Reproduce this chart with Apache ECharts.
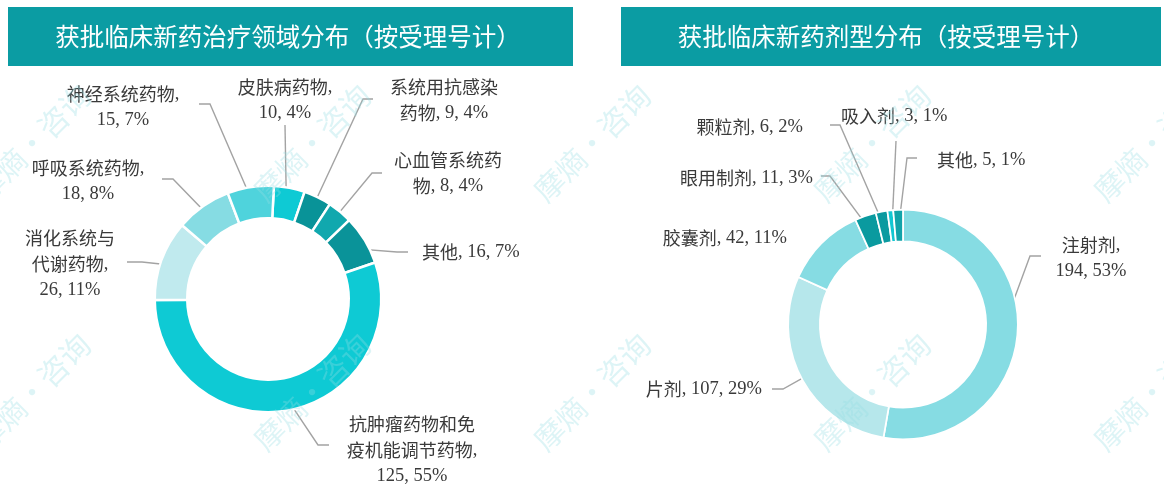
<!DOCTYPE html>
<html>
<head>
<meta charset="utf-8">
<script src="https://cdn.jsdelivr.net/npm/echarts@6/dist/echarts.min.js"></script>
<style>
html,body{margin:0;padding:0;background:#ffffff;}
#chart{width:1164px;height:496px;}
</style>
</head>
<body>
<div id="chart"></div>
<script>
// ---------------- data ----------------
const leftTitle = '获批临床新药治疗领域分布（按受理号计）';
const leftNames = ['皮肤病药物', '系统用抗感染药物', '心血管系统药物', '其他', '抗肿瘤药物和免疫机能调节药物', '消化系统与代谢药物', '呼吸系统药物', '神经系统药物'];
const leftValues = [10, 9, 8, 16, 125, 26, 18, 15];

const rightTitle = '获批临床新药剂型分布（按受理号计）';
const rightNames = ['注射剂', '片剂', '胶囊剂', '眼用制剂', '颗粒剂', '吸入剂', '其他'];
const rightValues = [194, 107, 42, 11, 6, 3, 5];

const watermarkText = '摩熵·咨询';

// ---------------- styles / layout ----------------
const leftColors = ['#0ecad4', '#099398', '#11a8ae', '#0a9399', '#0ecad4', '#c0eaee', '#86dce3', '#4fd3dc'];
const rightColors = ['#86dce3', '#b6e7eb', '#86dce3', '#0a9a9f', '#0b9aa0', '#12c7d2', '#12a3a9'];

// label line breaks: index in name where to break (0 = none), newline before value
const leftBreak = [0, 6, 6, 0, 7, 5, 0, 0];
const leftNl = [1, 0, 0, 0, 1, 1, 1, 1];
const rightBreak = [0, 0, 0, 0, 0, 0, 0];
const rightNl = [1, 0, 0, 0, 0, 0, 0];

const leftCfg = {
  center: [268, 299], r0: 82, r1: 112, start: 87, border: 2.5,
  labelPos: [
    [285, 100.5, 'center'], [444, 100, 'center'], [448, 173.5, 'center'], [422, 252, 'left'],
    [412, 450, 'center'], [70, 264, 'center'], [88, 181.5, 'center'], [123, 107.5, 'center']
  ],
  lines: [
    [[285, 125]], [[363, 99], [373, 99]], [[372, 173], [382, 173]], [[397, 252], [408, 252]],
    [[318, 445], [329, 445]], [[142, 262], [127, 262]], [[173, 179], [162, 179]], [[210, 104], [199, 104]]
  ]
};
const rightCfg = {
  center: [903, 324.5], r0: 84, r1: 114, start: 90, border: 1.75,
  labelPos: [
    [1091, 258.5, 'center'], [762, 389, 'right'], [787, 238, 'right'], [813, 178, 'right'],
    [803, 127, 'right'], [841, 116, 'left'], [937, 160, 'left']
  ],
  lines: [
    [[1030, 256], [1041, 256]], [[783, 389], [772, 389]], null, [[830, 176], [821, 176]],
    [[840, 125], [830, 125]], [[896, 141]], [[907, 158], [917, 158]]
  ]
};

const textColor = '#3a3a3a';
const lineColor = '#a3a3a3';
const boxColor = '#0b9ca3';

function midPoint(cfg, values, i) {
  const total = values.reduce((a, b) => a + b, 0);
  let cum = 0;
  for (let k = 0; k < i; k++) cum += values[k];
  const a = (cfg.start - (cum + values[i] / 2) / total * 360) * Math.PI / 180;
  const R = (cfg.r0 + cfg.r1) / 2;
  return [cfg.center[0] + R * Math.cos(a), cfg.center[1] - R * Math.sin(a)];
}

function makeFormatter(names, brk, nl) {
  return function (p) {
    const i = p.dataIndex;
    const name = names[i];
    const valTxt = p.value + ', ' + Math.round(p.percent) + '%';
    const nameLines = brk[i] ? [name.slice(0, brk[i]), name.slice(brk[i])] : [name];
    let s = nameLines.map(l => '{n|' + l + '}').join('\n');
    s += nl[i] ? '{v|,}\n{v|' + valTxt + '}' : '{v|, ' + valTxt + '}';
    return s;
  };
}

function makeSeries(names, values, colors, cfg, brk, nl) {
  const data = names.map((n, i) => ({
    name: n,
    value: values[i],
    itemStyle: { color: colors[i] },
    labelLine: { show: !!cfg.lines[i] }
  }));
  return {
    type: 'pie',
    center: cfg.center,
    radius: [cfg.r0 - cfg.border / 2, cfg.r1 + cfg.border / 2],
    startAngle: cfg.start,
    clockwise: true,
    avoidLabelOverlap: false,
    animation: false,
    silent: true,
    itemStyle: { borderColor: '#ffffff', borderWidth: cfg.border },
    label: {
      show: true,
      position: 'outside',
      width: 240,
      overflow: 'none',
      formatter: makeFormatter(names, brk, nl),
      rich: {
        n: { fontFamily: '"Noto Sans CJK SC"', fontSize: 18, color: textColor, lineHeight: 26 },
        v: { fontFamily: '"Liberation Serif"', fontSize: 18.5, color: textColor, lineHeight: 26 }
      }
    },
    labelLine: { show: true, length: 10, length2: 10, lineStyle: { color: lineColor, width: 1.4 } },
    labelLayout: function (params) {
      const i = params.dataIndex;
      const pos = cfg.labelPos[i];
      const res = { x: pos[0], y: pos[1], align: pos[2], verticalAlign: 'middle', width: 240 };
      if (cfg.lines[i]) {
        res.labelLinePoints = [midPoint(cfg, values, i)].concat(cfg.lines[i]);
      }
      return res;
    },
    data: data
  };
}

// watermark grid (layout)
const wmX = [32, 312, 592, 872, 1152];
const wmY = [143, 392];
const watermarks = [];
wmY.forEach(y => wmX.forEach(x => {
  watermarks.push({
    type: 'text', x: x, y: y, rotation: Math.PI / 4, z: 100, silent: true,
    style: {
      text: watermarkText, fill: 'rgba(150,222,228,0.32)',
      font: '30px "Noto Sans CJK SC"', align: 'center', verticalAlign: 'middle',
      textAlign: 'center', textVerticalAlign: 'middle'
    }
  });
}));

const titleFont = '24.5px "Noto Sans CJK SC"';
const chart = echarts.init(document.getElementById('chart'), null, { renderer: 'canvas' });
chart.setOption({
  backgroundColor: '#ffffff',
  animation: false,
  graphic: [
    { type: 'rect', shape: { x: 8, y: 7, width: 565, height: 59 }, style: { fill: boxColor }, z: 1 },
    { type: 'text', x: 288, y: 37, z: 2, style: { text: leftTitle, fill: '#ffffff', font: titleFont, align: 'center', verticalAlign: 'middle', textAlign: 'center', textVerticalAlign: 'middle' } },
    { type: 'rect', shape: { x: 621, y: 7, width: 540, height: 59 }, style: { fill: boxColor }, z: 1 },
    { type: 'text', x: 886, y: 37, z: 2, style: { text: rightTitle, fill: '#ffffff', font: titleFont, align: 'center', verticalAlign: 'middle', textAlign: 'center', textVerticalAlign: 'middle' } }
  ].concat(watermarks),
  series: [
    makeSeries(leftNames, leftValues, leftColors, leftCfg, leftBreak, leftNl),
    makeSeries(rightNames, rightValues, rightColors, rightCfg, rightBreak, rightNl)
  ]
});
</script>
</body>
</html>
